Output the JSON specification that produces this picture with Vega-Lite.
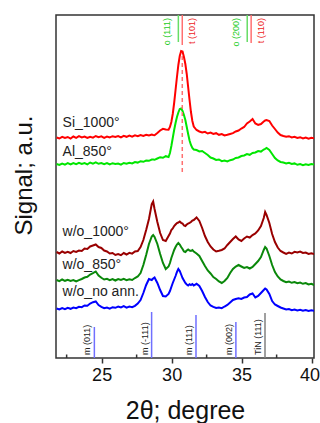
{
"$schema": "https://vega.github.io/schema/vega-lite/v6.json",
"width": 258, "height": 343,
"autosize": {"type": "none"},
"padding": {"left": 56, "top": 15, "right": 6, "bottom": 65},
"config": {"font": "Liberation Sans", "view": {"stroke": "#333", "strokeWidth": 1.5}},
"datasets": {
"xrd": [
{"t":21.78,"r":220.5,"g":194,"dr":106,"dg":78,"b":49.5},
{"t":21.98,"r":219.5,"g":193,"dr":104.5,"dg":76.8,"b":48.5},
{"t":22.18,"r":221.2,"g":194.5,"dr":106.5,"dg":78.5,"b":50},
{"t":22.38,"r":220,"g":193.4,"dr":105,"dg":77.2,"b":48.8},
{"t":22.58,"r":221,"g":194.8,"dr":106.2,"dg":78.2,"b":50.2},
{"t":22.78,"r":219.4,"g":193.5,"dr":105,"dg":77,"b":49.2},
{"t":22.98,"r":221.5,"g":195,"dr":107,"dg":78,"b":50.5},
{"t":23.18,"r":220.2,"g":193.8,"dr":106,"dg":76.5,"b":49.8},
{"t":23.38,"r":221.8,"g":195.2,"dr":107.5,"dg":77.8,"b":51.2},
{"t":23.58,"r":220.5,"g":194,"dr":107,"dg":79,"b":50.8},
{"t":23.78,"r":221.5,"g":195,"dr":109.5,"dg":80.5,"b":52.5},
{"t":23.98,"r":220,"g":193.7,"dr":109,"dg":81.2,"b":52.2},
{"t":24.18,"r":221.2,"g":195.5,"dr":111.5,"dg":83.5,"b":54.5},
{"t":24.38,"r":220.4,"g":194.4,"dr":112.5,"dg":84.8,"b":55.8},
{"t":24.58,"r":222,"g":195.6,"dr":113.5,"dg":86.5,"b":56.5},
{"t":24.78,"r":220.8,"g":194.2,"dr":111,"dg":82.5,"b":53},
{"t":24.98,"r":221.6,"g":195,"dr":110,"dg":80.2,"b":51.2},
{"t":25.18,"r":220.2,"g":193.8,"dr":107.5,"dg":78.5,"b":49.8},
{"t":25.38,"r":221.5,"g":195,"dr":106.5,"dg":79.2,"b":50.5},
{"t":25.58,"r":220.5,"g":193.5,"dr":104.5,"dg":77.8,"b":49.4},
{"t":25.78,"r":221.8,"g":194.8,"dr":105,"dg":79,"b":50.8},
{"t":25.98,"r":221,"g":194,"dr":103,"dg":77.5,"b":50.2},
{"t":26.18,"r":222,"g":194.5,"dr":104,"dg":79,"b":51.5},
{"t":26.38,"r":220.6,"g":193.4,"dr":102.8,"dg":78,"b":50.5},
{"t":26.58,"r":222.2,"g":195,"dr":105,"dg":79.2,"b":51.8},
{"t":26.78,"r":221.2,"g":194.2,"dr":103.5,"dg":77.8,"b":50.4},
{"t":26.98,"r":222.5,"g":195.2,"dr":105.2,"dg":78.8,"b":51.5},
{"t":27.18,"r":221.4,"g":194.5,"dr":104.4,"dg":78,"b":50.8},
{"t":27.38,"r":222.6,"g":196,"dr":106.5,"dg":80,"b":52.2},
{"t":27.58,"r":221.8,"g":195.4,"dr":107,"dg":81.5,"b":54.5},
{"t":27.78,"r":223,"g":196.8,"dr":111,"dg":85,"b":58},
{"t":27.98,"r":222,"g":196.2,"dr":118,"dg":93,"b":65},
{"t":28.18,"r":223.2,"g":197.5,"dr":128,"dg":103,"b":73},
{"t":28.38,"r":222.5,"g":197.2,"dr":139,"dg":114,"b":79},
{"t":28.58,"r":223.5,"g":198.5,"dr":154,"dg":121.5,"b":78},
{"t":28.68,"r":223,"g":198.4,"dr":156.5,"dg":123,"b":79.5},
{"t":28.78,"r":222.8,"g":198.2,"dr":149,"dg":121,"b":80.5},
{"t":28.98,"r":225,"g":199.5,"dr":136,"dg":114,"b":75},
{"t":29.18,"r":227.5,"g":200.8,"dr":125,"dg":104,"b":68},
{"t":29.38,"r":229.2,"g":200.2,"dr":118,"dg":95,"b":62},
{"t":29.58,"r":228.5,"g":201.8,"dr":117,"dg":89,"b":61.5},
{"t":29.78,"r":228.2,"g":201,"dr":122,"dg":91.5,"b":64},
{"t":29.88,"r":231,"g":205,"dr":124.5,"dg":95,"b":67},
{"t":29.98,"r":236,"g":212,"dr":128,"dg":100,"b":71},
{"t":30.08,"r":244,"g":220,"dr":129.5,"dg":104,"b":75},
{"t":30.18,"r":255,"g":228,"dr":132,"dg":108,"b":78.5},
{"t":30.28,"r":268,"g":235,"dr":133.5,"dg":111,"b":82},
{"t":30.38,"r":281,"g":241,"dr":135,"dg":113.5,"b":86},
{"t":30.48,"r":293,"g":245.5,"dr":135.5,"dg":115,"b":89},
{"t":30.58,"r":302,"g":249,"dr":136.5,"dg":113.5,"b":87},
{"t":30.68,"r":307,"g":249.5,"dr":135.2,"dg":111,"b":83.5},
{"t":30.78,"r":306.5,"g":247,"dr":134.5,"dg":109,"b":80},
{"t":30.88,"r":301,"g":243,"dr":132.5,"dg":106.5,"b":77.5},
{"t":30.98,"r":294,"g":238,"dr":132,"dg":106,"b":75},
{"t":31.08,"r":284,"g":231,"dr":133.5,"dg":107.5,"b":73.5},
{"t":31.18,"r":271,"g":224,"dr":134.5,"dg":108.5,"b":72.5},
{"t":31.28,"r":258,"g":217.5,"dr":135.2,"dg":107.5,"b":73.8},
{"t":31.38,"r":246,"g":213,"dr":136,"dg":107,"b":73},
{"t":31.48,"r":237,"g":210,"dr":137.5,"dg":108,"b":74},
{"t":31.58,"r":231.5,"g":208.5,"dr":138,"dg":106.5,"b":72.5},
{"t":31.78,"r":228,"g":208,"dr":140.5,"dg":104.5,"b":74.2},
{"t":31.98,"r":226.5,"g":206.5,"dr":137,"dg":102,"b":72},
{"t":32.18,"r":225.5,"g":207,"dr":130,"dg":97,"b":67},
{"t":32.38,"r":226.2,"g":205,"dr":122,"dg":92,"b":61},
{"t":32.58,"r":224.5,"g":203,"dr":116,"dg":87.5,"b":56},
{"t":32.78,"r":225.4,"g":200.5,"dr":111.5,"dg":84.5,"b":52.5},
{"t":32.98,"r":224,"g":199.5,"dr":108.5,"dg":81,"b":51.2},
{"t":33.18,"r":224.8,"g":198,"dr":106.5,"dg":79,"b":50},
{"t":33.38,"r":223.2,"g":198.5,"dr":107.2,"dg":76.5,"b":50.5},
{"t":33.58,"r":224,"g":196.8,"dr":108,"dg":75,"b":49.8},
{"t":33.78,"r":222.5,"g":197.5,"dr":109.5,"dg":77,"b":51.5},
{"t":33.98,"r":223.2,"g":196.5,"dr":113,"dg":80,"b":53},
{"t":34.18,"r":224,"g":197.8,"dr":116,"dg":85,"b":55.5},
{"t":34.38,"r":224.8,"g":198.4,"dr":119,"dg":89,"b":58},
{"t":34.58,"r":226.5,"g":200,"dr":121.5,"dg":91.5,"b":59},
{"t":34.78,"r":227.5,"g":200.5,"dr":118.5,"dg":93,"b":59.8},
{"t":34.98,"r":229.5,"g":202,"dr":117,"dg":91.5,"b":59},
{"t":35.18,"r":231,"g":202.5,"dr":119.5,"dg":90,"b":60.5},
{"t":35.38,"r":234.5,"g":204,"dr":121.5,"dg":91,"b":61},
{"t":35.58,"r":236.5,"g":203.2,"dr":120.5,"dg":89.5,"b":63.5},
{"t":35.78,"r":239,"g":205,"dr":123,"dg":91,"b":64.5},
{"t":35.98,"r":234.5,"g":205.5,"dr":124.5,"dg":94,"b":60.5},
{"t":36.18,"r":233,"g":207,"dr":127.5,"dg":97,"b":62},
{"t":36.38,"r":234,"g":206.4,"dr":132,"dg":101,"b":65},
{"t":36.58,"r":236.5,"g":208.5,"dr":140,"dg":108,"b":68},
{"t":36.68,"r":237.5,"g":209.2,"dr":146,"dg":111,"b":69.5},
{"t":36.78,"r":238,"g":210,"dr":143,"dg":109.5,"b":68.5},
{"t":36.98,"r":237,"g":208,"dr":135,"dg":102,"b":64},
{"t":37.18,"r":232.5,"g":204,"dr":124,"dg":93,"b":57},
{"t":37.38,"r":229,"g":200,"dr":116,"dg":86,"b":53.5},
{"t":37.58,"r":225.5,"g":197.5,"dr":110.5,"dg":81.5,"b":52},
{"t":37.78,"r":223,"g":196,"dr":107,"dg":78.5,"b":50.5},
{"t":37.98,"r":222,"g":195.5,"dr":105.5,"dg":77,"b":49.5},
{"t":38.18,"r":221.2,"g":194.5,"dr":104.2,"dg":75.8,"b":48.5},
{"t":38.38,"r":221.8,"g":195.2,"dr":105.4,"dg":76.5,"b":49},
{"t":38.58,"r":220.5,"g":194,"dr":104.5,"dg":75.2,"b":47.8},
{"t":38.78,"r":221.2,"g":194.6,"dr":106.2,"dg":76,"b":48.5},
{"t":38.98,"r":220,"g":193.2,"dr":105.5,"dg":74.8,"b":47.5},
{"t":39.18,"r":220.8,"g":194,"dr":106.5,"dg":75.5,"b":48.2},
{"t":39.38,"r":219.5,"g":192.8,"dr":105,"dg":74.2,"b":47.2},
{"t":39.58,"r":220.5,"g":193.8,"dr":105.4,"dg":75,"b":48},
{"t":39.78,"r":219.4,"g":193,"dr":104,"dg":73.5,"b":47},
{"t":39.98,"r":220.2,"g":194,"dr":104.8,"dg":74.2,"b":47.8},
{"t":40.18,"r":219.7,"g":193.5,"dr":104,"dg":73,"b":47.2}
],
"top": [
{"p":30.48,"name":"o (111)","ph":"o","end":316},
{"p":30.76,"name":"t (101)","ph":"t","end":313},
{"p":35.4,"name":"o (200)","ph":"o","end":316},
{"p":35.68,"name":"t (110)","ph":"t","end":315}
],
"bottom": [
{"p":24.48,"name":"m (011)","ph":"m","h":31},
{"p":28.57,"name":"m (-111)","ph":"m","h":46},
{"p":31.74,"name":"m (111)","ph":"m","h":43},
{"p":34.59,"name":"m (002)","ph":"m","h":36},
{"p":36.67,"name":"TiN (111)","ph":"TiN","h":45}
],
"minor": [{"v":22.5},{"v":27.5},{"v":32.5},{"v":37.5}],
"guide": [{"p":30.76,"lo":186,"hi":305}],
"labels": [
{"label":"Si_1000°","at":234.7},
{"label":"Al_850°","at":206.3},
{"label":"w/o_1000°","at":126.3},
{"label":"w/o_850°","at":93},
{"label":"w/o_no ann.","at":66.3}
]
},
"layer": [
{
"data": {"name": "xrd"},
"transform": [{"fold": ["r","g","dr","dg","b"], "as": ["series","signal"]}],
"mark": {"type": "line", "strokeWidth": 2, "clip": true},
"encoding": {
"x": {"field": "t", "type": "quantitative",
 "scale": {"domain": [21.74, 40.17], "nice": false, "zero": false},
 "axis": {"values": [25,30,35,40], "format": "d",
  "tickSize": 5,
  "encode": {"ticks": {"update": {"y2": {"value": -5}}}},
  "tickColor": "#333", "tickWidth": 1.5, "domain": false, "grid": false,
  "labelFontSize": 18, "labelColor": "#111", "labelPadding": 3, "labelFlush": 5, "labelFlushOffset": 8, "labelOverlap": false,
  "title": "2θ; degree", "titleFontSize": 25, "titleFontWeight": "normal", "titleColor": "#111", "titlePadding": 14}},
"y": {"field": "signal", "type": "quantitative",
 "scale": {"domain": [0, 343], "nice": false, "zero": false},
 "axis": {"labels": false, "ticks": false, "domain": false, "grid": false,
  "title": "Signal; a.u.", "titleFontSize": 24, "titleFontWeight": "normal", "titleColor": "#111", "titlePadding": 20, "titleY": 160}},
"color": {"field": "series", "type": "nominal",
 "scale": {"domain": ["r","g","dr","dg","b"], "range": ["#ff0000","#00e600","#990000","#0a880a","#0000ff"]},
 "legend": null}
}
},
{
"data": {"name": "minor"},
"mark": {"type": "rule", "strokeWidth": 1.5, "color": "#333"},
"encoding": {"x": {"field": "v", "type": "quantitative"}, "y": {"datum": 0}, "y2": {"datum": 3.5}}
},
{
"data": {"name": "guide"},
"mark": {"type": "rule", "strokeDash": [4,3], "strokeWidth": 1.5, "color": "#ff7070"},
"encoding": {"x": {"field": "p", "type": "quantitative"}, "y": {"field": "lo", "type": "quantitative"}, "y2": {"field": "hi"}}
},
{
"data": {"name": "top"},
"mark": {"type": "rule", "strokeWidth": 1.5},
"encoding": {"x": {"field": "p", "type": "quantitative"}, "y": {"field": "end", "type": "quantitative"}, "y2": {"datum": 343},
 "color": {"condition": {"test": "datum.ph === 'o'", "value": "#66dd66"}, "value": "#ff7070"}}
},
{
"data": {"name": "top"},
"transform": [{"filter": "datum.ph === 'o'"}],
"mark": {"type": "text", "angle": 270, "align": "right", "baseline": "middle", "dy": -11, "fontSize": 9, "color": "#22cc22"},
"encoding": {"x": {"field": "p", "type": "quantitative"}, "y": {"datum": 340}, "text": {"field": "name"}}
},
{
"data": {"name": "top"},
"transform": [{"filter": "datum.ph === 't'"}],
"mark": {"type": "text", "angle": 270, "align": "right", "baseline": "middle", "dy": 10, "fontSize": 9, "color": "#ee2222"},
"encoding": {"x": {"field": "p", "type": "quantitative"}, "y": {"datum": 340}, "text": {"field": "name"}}
},
{
"data": {"name": "bottom"},
"mark": {"type": "rule", "strokeWidth": 1.5},
"encoding": {"x": {"field": "p", "type": "quantitative"}, "y": {"field": "h", "type": "quantitative"}, "y2": {"datum": 0},
 "color": {"condition": {"test": "datum.ph === 'm'", "value": "#7070ff"}, "value": "#808080"}}
},
{
"data": {"name": "bottom"},
"mark": {"type": "text", "angle": 270, "align": "left", "baseline": "middle", "dy": -7, "fontSize": 9, "color": "#222"},
"encoding": {"x": {"field": "p", "type": "quantitative"}, "y": {"datum": 3}, "text": {"field": "name"}}
},
{
"data": {"name": "labels"},
"mark": {"type": "text", "align": "left", "baseline": "middle", "fontSize": 14, "color": "#222"},
"encoding": {"x": {"datum": 22.21}, "y": {"field": "at", "type": "quantitative"}, "text": {"field": "label"}}
}
]
}
